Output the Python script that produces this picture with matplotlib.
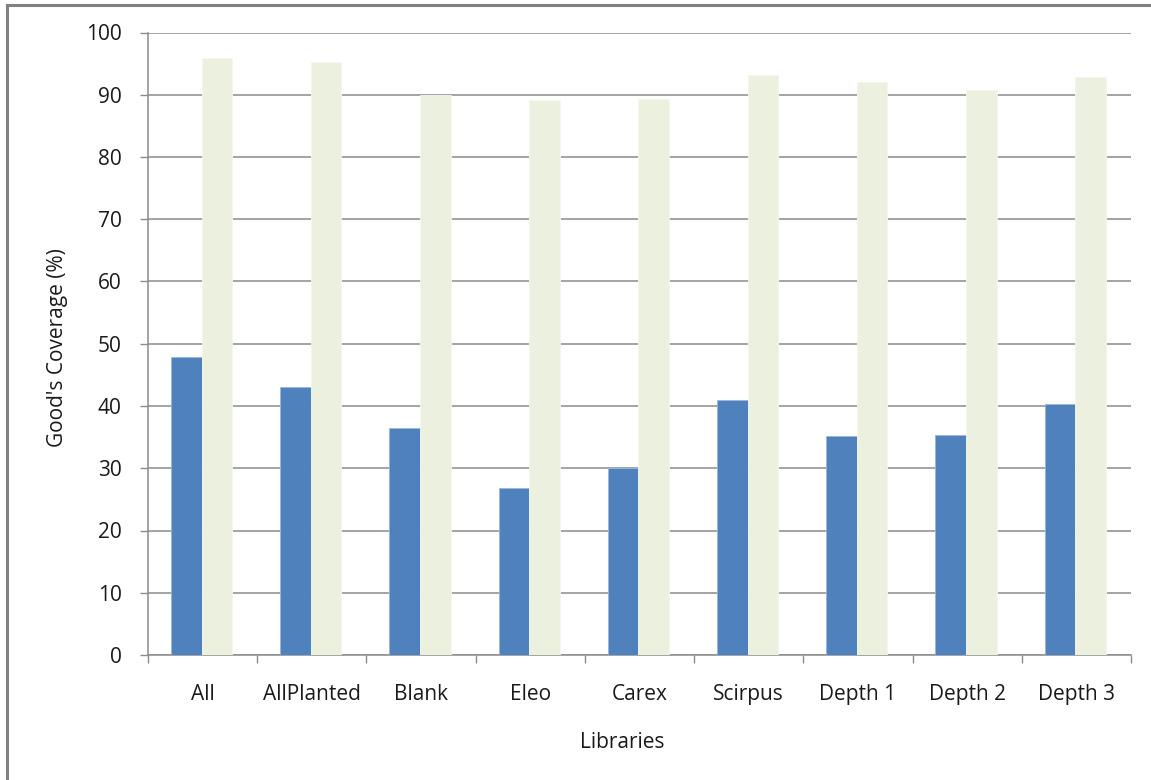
import numpy as np
import matplotlib.pyplot as plt
from matplotlib.patches import Rectangle

plt.rcParams['font.family'] = ['Open Sans', 'DejaVu Sans']

libraries = ['All', 'AllPlanted', 'Blank', 'Eleo', 'Carex', 'Scirpus',
             'Depth 1', 'Depth 2', 'Depth 3']
observed = [47.8, 43.1, 36.5, 26.8, 30.0, 41.0, 35.2, 35.4, 40.3]
estimated = [95.9, 95.3, 90.0, 89.1, 89.3, 93.1, 92.0, 90.8, 92.9]
yticks = [0, 10, 20, 30, 40, 50, 60, 70, 80, 90, 100]

blue = '#4F81BD'
pale = '#EBF0DF'
grey = '#8C8C8C'
fs = 15

fig = plt.figure(figsize=(11.51, 7.80), dpi=100)
ax = fig.add_axes([148 / 1151, 1 - 655 / 780, (1131 - 148) / 1151, (655 - 32.5) / 780])

x = np.arange(len(libraries))
w = 0.28
ax.bar(x - w / 2 - 0.01, observed, w, color=blue, edgecolor='#9DB5D8', linewidth=0.6, zorder=3)
ax.bar(x + w / 2 - 0.01, estimated, w, color=pale, edgecolor='#F4F7EE', linewidth=0.6, zorder=3)

ax.set_xlim(-0.5, len(libraries) - 0.5)
ax.set_ylim(0, 100)
ax.set_yticks(yticks)
ax.yaxis.grid(True, color=grey, linewidth=1.1, zorder=0)
ax.set_axisbelow(True)

# category labels sit between boundary ticks
ax.set_xticks(np.arange(len(libraries) + 1) - 0.5)
ax.set_xticklabels([])
ax.set_xticks(x, minor=True)
ax.set_xticklabels(libraries, minor=True)
ax.tick_params(axis='x', which='minor', length=0, pad=21, labelsize=fs)
ax.tick_params(axis='x', which='major', length=6, direction='out', color=grey, width=1)
ax.tick_params(axis='y', length=6, direction='out', color=grey, width=1,
               pad=13, labelsize=fs)
ax.tick_params(axis='both', which='both', labelcolor='#1a1a1a')

for s in ['top', 'right']:
    ax.spines[s].set_visible(False)
for s in ['left', 'bottom']:
    ax.spines[s].set_color(grey)
    ax.spines[s].set_linewidth(1.1)

fig.text(58 / 1151, 1 - 348 / 780, "Good's Coverage (%)", rotation=90,
         ha='center', va='center', fontsize=fs, color='#1a1a1a')
fig.text(622 / 1151, 1 - 743 / 780, 'Libraries', ha='center', va='center',
         fontsize=fs, color='#1a1a1a')

# chart frame
fig.patches.append(Rectangle((7 / 1151, -0.1), 1.2, 1 - 5 / 780 + 0.1,
                             transform=fig.transFigure, fill=False,
                             edgecolor='#808080', linewidth=2.2))

fig.savefig('out.png', dpi=100, facecolor='white')
